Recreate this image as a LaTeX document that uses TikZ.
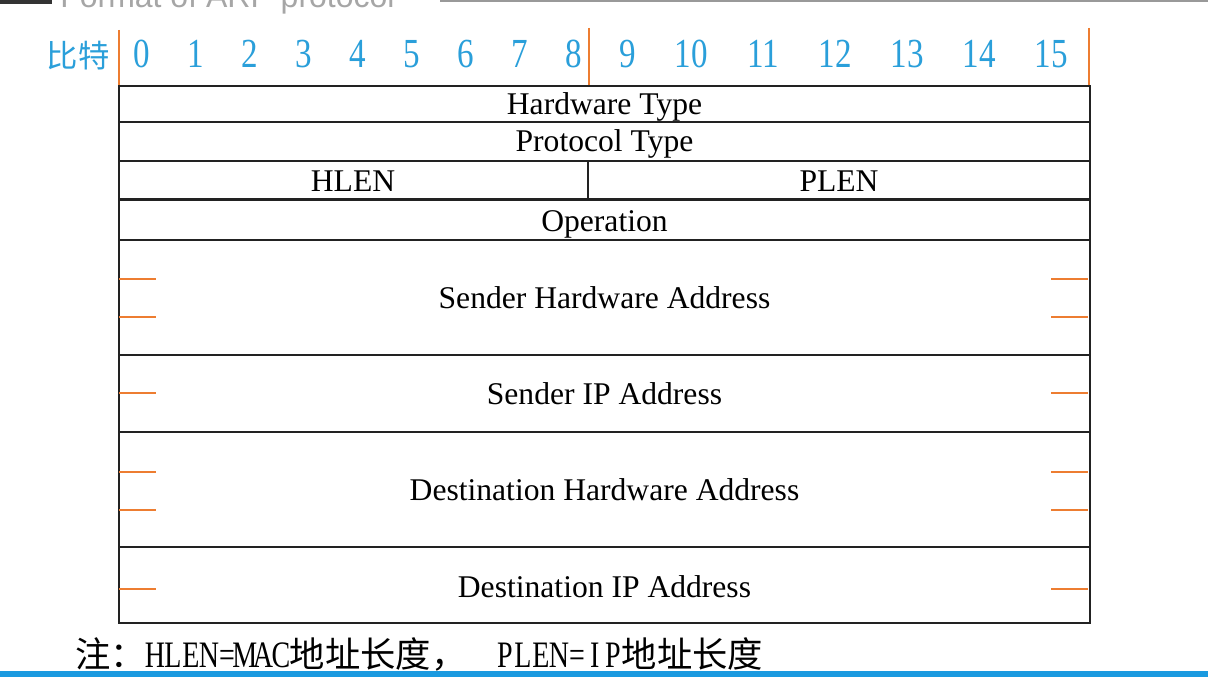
\documentclass[tikz,border=0pt]{standalone}
\usepackage{fontspec}
\setmainfont{Liberation Serif}
\newfontfamily\cjkfont{Noto Sans CJK SC}
\newfontfamily\titlefont{Liberation Sans}
\newfontfamily\bitfont[FakeStretch=0.8]{Liberation Serif}
\newfontfamily\notefont[FakeStretch=0.75]{Liberation Serif}
\definecolor{bitblue}{HTML}{2A9FDA}
\definecolor{tickorange}{HTML}{ED7D31}
\definecolor{rulecol}{HTML}{222222}
\definecolor{barblue}{HTML}{1A9AE0}
% half-width Latin: every character in a box of fixed width
\makeatletter
\def\hw@loop#1{\ifx#1\relax\else\makebox[13.5pt][c]{#1}\expandafter\hw@loop\fi}
\newcommand\halfwidth[1]{{\notefont\fontsize{28}{32}\selectfont\hw@loop#1\relax}}
\makeatother
\begin{document}
\begin{tikzpicture}[x=0.75pt,y=-0.75pt,
  field/.style={font=\fontsize{23.7}{28}\selectfont, anchor=base, inner sep=0pt},
  bitnum/.style={font=\bitfont\fontsize{31}{36}\selectfont, text=bitblue, anchor=base, inner sep=0pt},
  bittick/.style={draw=tickorange, line width=1.5pt},
  gridline/.style={draw=rulecol, line width=1.5pt}]

\useasboundingbox (0,0) rectangle (1208,677);
\clip (0,0) rectangle (1208,677);
\fill[white] (0,0) rectangle (1208,677);

% slide header (cut at the top edge)
\node[anchor=base west, font=\titlefont\fontsize{24}{28}\selectfont, text=black!35, inner sep=0pt] (title) at (60,8) {Format of ARP protocol};
\fill[black!80] (0,0) rectangle (52,4);
\fill[black!40] (440,0) rectangle (1208,2);

% bit ruler
\node[anchor=base, font=\cjkfont\fontsize{23.5}{27}\selectfont, text=bitblue, inner sep=0pt] (bitlabel) at (78,68) {比特};
\foreach \i in {0,...,9}
  \node[bitnum] (b\i) at ({142+54*\i},68) {\i};
\foreach \i in {10,...,15}
  \node[bitnum] (b\i) at ({691+72*(\i-10)},68) {\i};
\draw[bittick] (119,30) -- (119,86);
\draw[bittick] (589,28) -- (589,86);
\draw[bittick] (1089,28) -- (1089,86);

% header fields
\draw[gridline] (119,86) rectangle (1090,623);
\draw[gridline, line width=1.9pt] (119,122) -- (1090,122);
\draw[gridline] (119,160.7) -- (1090,160.7);
\draw[gridline, line width=2.4pt] (119,199.5) -- (1090,199.5);
\draw[gridline] (119,240) -- (1090,240);
\draw[gridline] (119,355) -- (1090,355);
\draw[gridline] (119,432) -- (1090,432);
\draw[gridline] (119,547) -- (1090,547);
\draw[gridline] (588,160.7) -- (588,199.5);

% octet marks inside the address fields
\foreach \y in {279,317,393,472,510,589} {
  \draw[bittick] (119,\y) -- (156,\y);
  \draw[bittick] (1051,\y) -- (1088,\y);
}

\node[field] (hwtype) at (604.5,115) {Hardware Type};
\node[field] (prtype) at (604.5,152) {Protocol Type};
\node[field] (hlen)   at (353,191.5) {HLEN};
\node[field] (plen)   at (839,191.5) {PLEN};
\node[field] (oper)   at (604.5,232) {Operation};
\node[field] (sha)    at (604.5,309) {Sender Hardware Address};
\node[field] (spa)    at (604.5,405) {Sender IP Address};
\node[field] (tha)    at (604.5,501) {Destination Hardware Address};
\node[field] (tpa)    at (604.5,597) {Destination IP Address};

% footnote
\node[anchor=base west, inner sep=0pt, font=\cjkfont\fontsize{26.5}{32}\selectfont] (note) at (75,667)
  {注：\halfwidth{HLEN=MAC}地址长度，\hspace{22pt}\halfwidth{PLEN=IP}地址长度};

\fill[barblue] (0,671) rectangle (1208,677);
\end{tikzpicture}
\end{document}
